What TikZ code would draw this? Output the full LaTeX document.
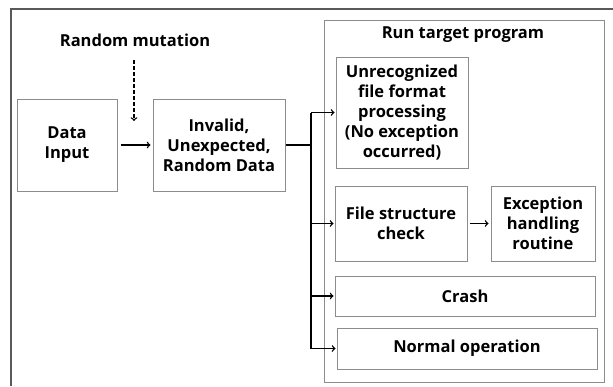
\documentclass[tikz,border=0pt]{standalone}
\usepackage{fontspec}
\setmainfont{Open Sans}
\usepackage{tikz}
\usetikzlibrary{arrows}
\usetikzlibrary{positioning}
\tikzset{box/.style = {draw = boxgray, line width = 1, align = center, inner sep = 0,
    font = \bfseries\fontsize{16.5}{20}\selectfont}}
\tikzset{lbl/.style = {align = center, inner sep = 0,
    font = \bfseries\fontsize{16.5}{20}\selectfont}}
\tikzset{conn/.style = {line width = 1.4, ->}}
\definecolor{boxgray}{rgb}{0.55, 0.55, 0.55}
\definecolor{framegray}{rgb}{0.35, 0.35, 0.35}

\begin{document}
\begin{tikzpicture}[x = 1pt, y = -1pt]
    \useasboundingbox (0, 0) rectangle (613, 386);
    \draw [framegray, line width = 1.5] (11, 386) -- (11, 9) -- (613, 9);

    \node [lbl] (mutation) at (135, 40) {Random mutation};
    \node [box, minimum width = 100, minimum height = 92] (datain) at (67, 145) {Data\\Input};
    \node [box, minimum width = 132, minimum height = 92] (invalid) at (219, 145)
        {Invalid,\\Unexpected,\\Random Data};
    \coordinate (mutend) at (134, 121);
    \draw [conn, dash pattern = on 4 off 2] (mutend |- 0, 60) -- (mutend);
    \draw [conn, shorten < = 3, shorten > = 2] (datain) -- (invalid);

    % target program
    \node [box, minimum width = 280, minimum height = 362] (run) at (464, 201) {};
    \node [lbl] (runtitle) at (463, 35) {Run target program};
    \node [box, minimum width = 132, minimum height = 111] (unrec) at (402, 112.5)
        {Unrecognized\\file format\\processing\\(No exception\\occurred)};
    \node [box, minimum width = 132, minimum height = 75] (check) at (401, 223.5)
        {File structure\\check};
    \node [box, minimum width = 104, minimum height = 75] (handler) at (543, 223.5)
        {Exception\\handling\\routine};
    \node [box, minimum width = 260, minimum height = 40] (crash) at (465, 296) {Crash};
    \node [box, minimum width = 260, minimum height = 41] (normal) at (467, 348.5)
        {Normal operation};
    \draw [conn, shorten < = 2, shorten > = 2] (check) -- (handler);

    \coordinate (split) at (311, 145);
    \draw [line width = 2] (invalid.east) -- (split);
    \draw [line width = 2] (split |- unrec) -- (split |- normal);
    \draw [conn, shorten > = 1] (split |- unrec) -- (unrec.west);
    \draw [conn, shorten > = 1] (split |- check) -- (check.west);
    \draw [conn, shorten > = 1] (split |- crash) -- (crash.west);
    \draw [conn, shorten > = 1] (split |- normal) -- (normal.west);
\end{tikzpicture}
\end{document}
